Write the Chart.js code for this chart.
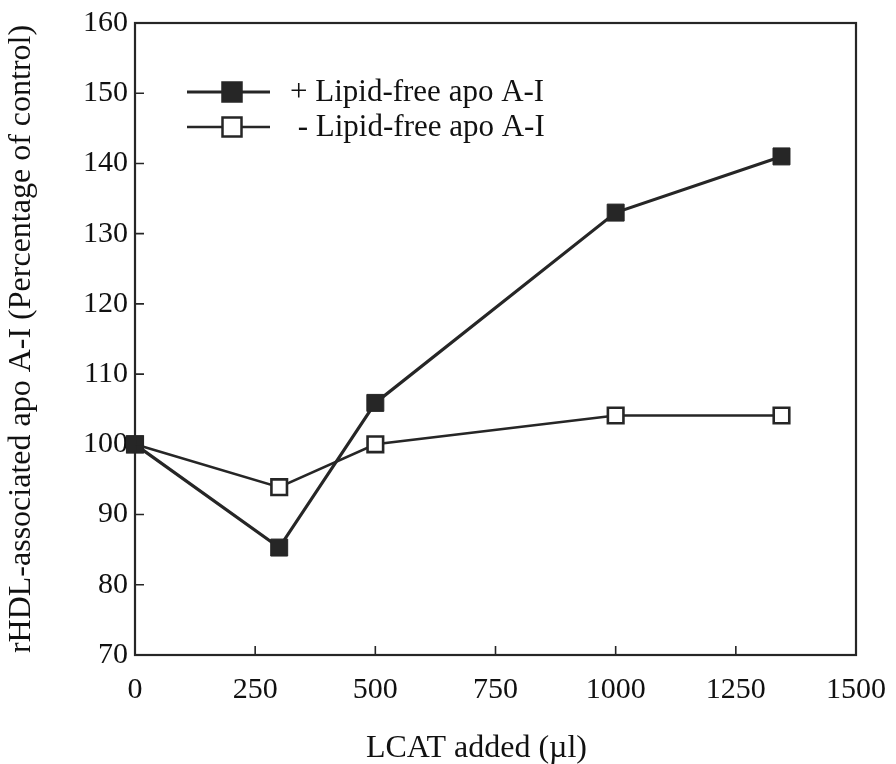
<!DOCTYPE html>
<html>
<head>
<meta charset="utf-8">
<script src="https://cdn.jsdelivr.net/npm/chart.js@4.4.1/dist/chart.umd.min.js"></script>
<style>
  html, body { margin: 0; padding: 0; background: #fff; }
  #wrap { width: 896px; height: 764px; }
</style>
</head>
<body>
<div id="wrap"><canvas id="lcatChart" width="896" height="764"></canvas></div>
<script>
// LCAT volume (µl) and rHDL-associated apo A-I as % of control
const lcatAdded = [0, 300, 500, 1000, 1345];
const withLipidFree = [100, 85.3, 105.9, 133, 141];
const withoutLipidFree = [100, 93.9, 100, 104.1, 104.1];
const xTicks = [0, 250, 500, 750, 1000, 1250, 1500];
const yTicks = [70, 80, 90, 100, 110, 120, 130, 140, 150, 160];
const seriesLabels = ['+ Lipid-free apo A-I', ' - Lipid-free apo A-I'];
const xTitle = 'LCAT added (µl)';

const ink = '#262626';
const serif = '"Liberation Serif", "Times New Roman", serif';

function toPoints(xs, ys) {
    return xs.map((x, i) => ({ x: x, y: ys[i] }));
}

// frame around the plot area plus short inward tick marks
const framePlugin = {
    id: 'frame',
    afterDatasetsDraw(chart) {
        const { ctx, chartArea: a, scales } = chart;
        ctx.save();
        ctx.strokeStyle = ink;
        ctx.lineWidth = 2.2;
        ctx.strokeRect(a.left, a.top, a.right - a.left, a.bottom - a.top);
        ctx.lineWidth = 1.6;
        ctx.beginPath();
        xTicks.slice(1, -1).forEach(v => {
            const px = scales.x.getPixelForValue(v);
            ctx.moveTo(px, a.bottom);
            ctx.lineTo(px, a.bottom - 9);
        });
        yTicks.slice(1, -1).forEach(v => {
            const py = scales.y.getPixelForValue(v);
            ctx.moveTo(a.left, py);
            ctx.lineTo(a.left + 9, py);
        });
        ctx.stroke();
        ctx.restore();
    }
};

// x axis title, set a little left of the plot centre
const xTitlePlugin = {
    id: 'xTitle',
    afterDraw(chart) {
        const { ctx, chartArea: a } = chart;
        ctx.save();
        ctx.fillStyle = '#111';
        ctx.font = '32px ' + serif;
        ctx.textAlign = 'center';
        ctx.textBaseline = 'alphabetic';
        ctx.fillText(xTitle, (a.left + a.right) / 2 - 19, 757);
        ctx.restore();
    }
};

// legend: line segment with the series marker, then the label
const legendPlugin = {
    id: 'lineLegend',
    afterDraw(chart) {
        const { ctx, chartArea: a } = chart;
        const rows = [a.top + 69, a.top + 104];
        ctx.save();
        chart.data.datasets.forEach((ds, i) => {
            const y = rows[i];
            const x0 = a.left + 52, x1 = a.left + 135, mx = a.left + 97;
            ctx.strokeStyle = ink;
            ctx.lineWidth = ds.borderWidth;
            ctx.beginPath();
            ctx.moveTo(x0, y);
            ctx.lineTo(x1, y);
            ctx.stroke();
            const s = 19;
            ctx.fillStyle = ds.pointBackgroundColor;
            ctx.fillRect(mx - s / 2, y - s / 2, s, s);
            ctx.lineWidth = 2.5;
            ctx.strokeRect(mx - s / 2, y - s / 2, s, s);
            ctx.fillStyle = '#111';
            ctx.font = '31px ' + serif;
            ctx.textBaseline = 'middle';
            ctx.fillText(ds.label, a.left + 155, y + 1);
        });
        ctx.restore();
    }
};

new Chart(document.getElementById('lcatChart'), {
    type: 'line',
    data: {
        datasets: [
            {
                label: seriesLabels[0],
                data: toPoints(lcatAdded, withLipidFree),
                borderColor: ink,
                borderWidth: 3.2,
                pointStyle: 'rect',
                pointRadius: 12,
                pointBackgroundColor: ink,
                pointBorderColor: ink,
                pointBorderWidth: 1,
                clip: false
            },
            {
                label: seriesLabels[1],
                data: toPoints(lcatAdded, withoutLipidFree),
                borderColor: ink,
                borderWidth: 2.6,
                pointStyle: 'rect',
                pointRadius: 11,
                pointBackgroundColor: '#ffffff',
                pointBorderColor: ink,
                pointBorderWidth: 2.6,
                clip: false
            }
        ]
    },
    options: {
        responsive: false,
        animation: false,
        layout: { padding: { left: 0, top: 23, right: 40, bottom: 0 } },
        plugins: {
            legend: { display: false },
            tooltip: { enabled: false }
        },
        scales: {
            x: {
                type: 'linear',
                min: 0,
                max: 1500,
                afterBuildTicks: (scale) => { scale.ticks = xTicks.map(v => ({ value: v })); },
                afterFit: (scale) => {
                    scale.height = 109;
                    scale.paddingLeft = 0;
                    scale.paddingRight = 0;
                },
                grid: { display: false, drawTicks: false },
                border: { display: false },
                ticks: {
                    color: '#111',
                    font: { family: serif, size: 30 },
                    padding: 17,
                    maxRotation: 0,
                    autoSkip: false,
                    callback: (v) => String(v)
                }
            },
            y: {
                min: 70,
                max: 160,
                afterBuildTicks: (scale) => { scale.ticks = yTicks.map(v => ({ value: v })); },
                afterFit: (scale) => {
                    scale.width = 135;
                    scale.paddingTop = 0;
                    scale.paddingBottom = 0;
                },
                grid: { display: false, drawTicks: false },
                border: { display: false },
                ticks: {
                    color: '#111',
                    font: { family: serif, size: 30 },
                    padding: 7,
                    autoSkip: false,
                    callback: (v) => String(v)
                },
                title: {
                    display: true,
                    text: 'rHDL-associated apo A-I (Percentage of control)',
                    color: '#111',
                    font: { family: serif, size: 32 },
                    padding: { top: 2, bottom: 0 }
                }
            }
        }
    },
    plugins: [framePlugin, legendPlugin, xTitlePlugin]
});
</script>
</body>
</html>
